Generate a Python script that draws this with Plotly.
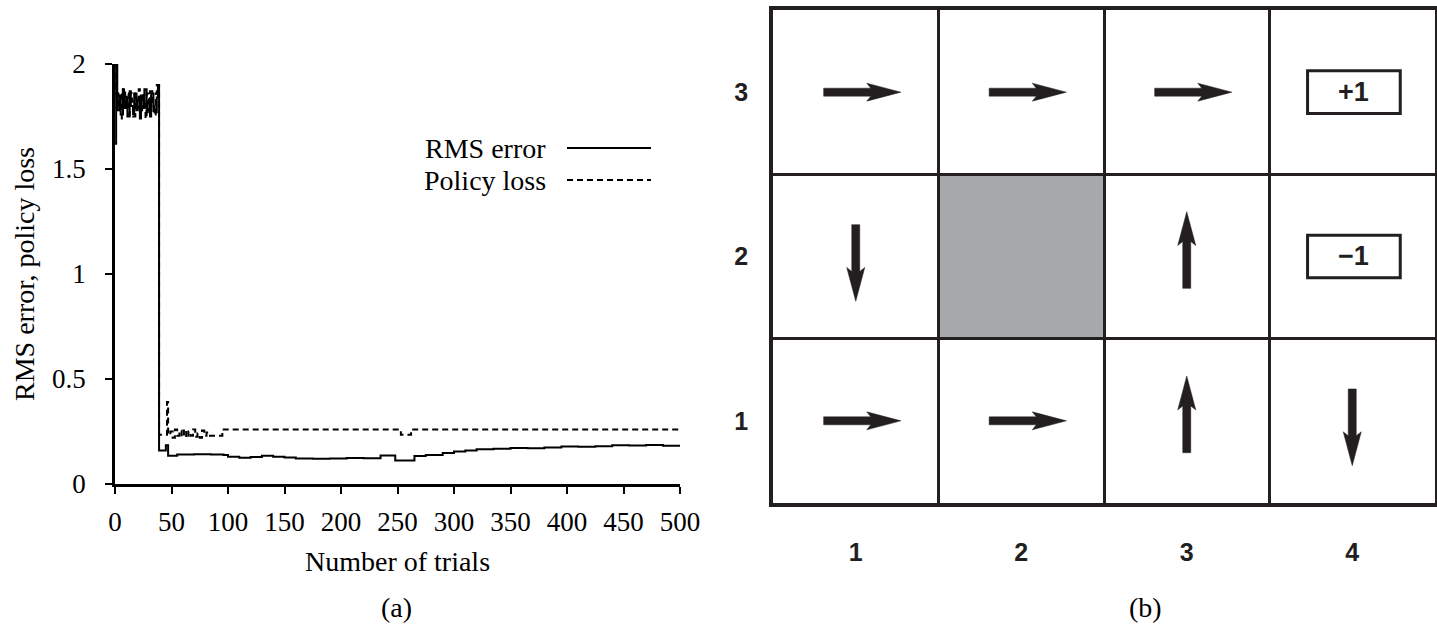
import plotly.graph_objects as go

W, H = 1437, 630

# ---------------- (a) learning curves ----------------
rms_trials = [0, 1, 2, 4, 5, 7, 8, 10, 11, 13, 14, 16, 17, 19, 20, 22, 23, 25, 26, 28,
              29, 31, 32, 34, 35, 37, 38,
              39, 45, 47, 55, 70, 85, 96, 100, 110, 120, 130, 140, 150, 160, 175, 190,
              205, 220, 235, 248, 265, 275, 290, 300, 310, 320, 335, 350, 365, 380,
              395, 410, 425, 440, 455, 470, 485, 500]
rms_values = [1.62, 2.0, 1.78, 1.85, 1.76, 1.88, 1.79, 1.84, 1.75, 1.87, 1.80, 1.76, 1.86,
              1.78, 1.83, 1.74, 1.85, 1.79, 1.88, 1.77, 1.82, 1.75, 1.86, 1.80, 1.77,
              1.84, 1.90,
              0.16, 0.185, 0.135, 0.14, 0.142, 0.14, 0.138, 0.13, 0.125, 0.128, 0.134,
              0.13, 0.126, 0.122, 0.12, 0.122, 0.124, 0.123, 0.136, 0.112, 0.133, 0.138,
              0.148, 0.155, 0.16, 0.166, 0.168, 0.172, 0.17, 0.174, 0.178, 0.177, 0.18,
              0.184, 0.183, 0.186, 0.182, 0.184]

pol_trials = [0, 1, 3, 4, 6, 7, 9, 10, 12, 13, 15, 16, 18, 19, 21, 22, 24, 25, 27, 28,
              30, 31, 33, 34, 36, 37,
              39, 46, 47, 49, 51, 53, 55, 57, 59, 61, 63, 65, 67, 69, 71, 73, 75, 77,
              79, 81, 83, 95, 253, 262, 500]
pol_values = [2.0, 1.86, 1.78, 1.86, 1.74, 1.88, 1.80, 1.86, 1.76, 1.86, 1.82, 1.75, 1.86,
              1.79, 1.88, 1.77, 1.86, 1.81, 1.74, 1.86, 1.78, 1.87, 1.80, 1.76, 1.86,
              1.90,
              0.235, 0.39, 0.235, 0.25, 0.22, 0.26, 0.23, 0.255, 0.225, 0.26, 0.22, 0.25,
              0.23, 0.26, 0.225, 0.24, 0.22, 0.255, 0.23, 0.245, 0.23, 0.26, 0.235,
              0.26, 0.26]

x_ticks = [0, 50, 100, 150, 200, 250, 300, 350, 400, 450, 500]
y_ticks = [0, 0.5, 1, 1.5, 2]
y_tick_text = ["0", "0.5", "1", "1.5", "2"]

# ---------------- (b) grid world policy ----------------
grid_cols = [1, 2, 3, 4]
grid_rows = [1, 2, 3]
arrow_cells = [(1, 3, "right"), (2, 3, "right"), (3, 3, "right"),
               (1, 2, "down"), (3, 2, "up"),
               (1, 1, "right"), (2, 1, "right"), (3, 1, "up"), (4, 1, "down")]
wall_cells = [(2, 2)]
terminal_cells = [(4, 3, "+1"), (4, 2, "\u22121")]

serif = "Liberation Serif"
sans = "Liberation Sans"
ink = "#231f20"
TXT = 28

def px(xp):
    return xp / W

def py(yp):
    return 1 - yp / H

fig = go.Figure()

fig.add_trace(go.Scatter(x=rms_trials, y=rms_values, mode="lines", line_shape="hv",
                         line=dict(color="black", width=2), showlegend=False,
                         xaxis="x", yaxis="y"))
fig.add_trace(go.Scatter(x=pol_trials, y=pol_values, mode="lines", line_shape="hv",
                         line=dict(color="black", width=2, dash="6px,4px"), showlegend=False,
                         xaxis="x", yaxis="y"))

# arrows as filled polygons (in cell units)
u = 1 / 165.0
dirs = {"right": (1, 0), "left": (-1, 0), "up": (0, 1), "down": (0, -1)}
profile = [(-32, -4), (15, -4), (11, -9), (45, 0), (11, 9), (15, 4), (-32, 4), (-32, -4)]
for (c, r, d) in arrow_cells:
    dx, dy = dirs[d]
    xs, ys = [], []
    for a, b in profile:
        xs.append(c + (a * dx - b * dy) * u)
        ys.append(r + (a * dy + b * dx) * u)
    fig.add_trace(go.Scatter(x=xs, y=ys, mode="lines", fill="toself",
                             fillcolor=ink, line=dict(color=ink, width=0.5),
                             showlegend=False, xaxis="x2", yaxis="y2", hoverinfo="skip"))

shapes = []
for (c, r) in wall_cells:
    shapes.append(dict(type="rect", xref="x2", yref="y2", x0=c - 0.5, x1=c + 0.5,
                       y0=r - 0.5, y1=r + 0.5, fillcolor="#a7a8ab", line=dict(width=0),
                       layer="below"))
annotations = []
for (c, r, t) in terminal_cells:
    shapes.append(dict(type="rect", xref="x2", yref="y2", x0=c - 0.27, x1=c + 0.29,
                       y0=r - 0.13, y1=r + 0.13, fillcolor="white",
                       line=dict(color=ink, width=3)))
    annotations.append(dict(x=c + 0.01, y=r, xref="x2", yref="y2", text="<b>%s</b>" % t,
                            showarrow=False, font=dict(family=sans, size=27, color=ink)))

# legend for (a)
legend_items = [("RMS error", "solid", 148), ("Policy loss", "dash", 180)]
for name, dash, yp in legend_items:
    annotations.append(dict(x=px(548), y=py(yp), xref="paper", yref="paper", text=name,
                            showarrow=False, xanchor="right", yanchor="middle",
                            font=dict(family=serif, size=TXT, color="black")))
    shapes.append(dict(type="line", xref="paper", yref="paper", x0=px(567), x1=px(651),
                       y0=py(yp), y1=py(yp),
                       line=dict(color="black", width=2,
                                 dash="solid" if dash == "solid" else "6px,4px")))

for label, xc in [("(a)", 397), ("(b)", 1145)]:
    annotations.append(dict(x=px(xc), y=py(607), xref="paper", yref="paper", text=label,
                            showarrow=False, xanchor="center", yanchor="middle",
                            font=dict(family=serif, size=TXT, color="black")))

fig.update_layout(
    width=W, height=H, margin=dict(l=0, r=0, t=0, b=0, autoexpand=False),
    paper_bgcolor="white", plot_bgcolor="white",
    shapes=shapes, annotations=annotations,
    xaxis=dict(domain=[px(115), px(680)], range=[0, 500], tickvals=x_ticks,
               showline=True, linecolor="black", linewidth=2.5, ticks="outside",
               ticklen=7, tickwidth=2, tickcolor="black", showgrid=False, zeroline=False,
               tickfont=dict(family=serif, size=27, color="black"), ticklabelstandoff=5,
               title=dict(text="Number of trials", font=dict(family=serif, size=TXT, color="black"),
                          standoff=16),
               anchor="y", automargin=False),
    yaxis=dict(domain=[py(484), py(64)], range=[0, 2], tickvals=y_ticks, ticktext=y_tick_text,
               showline=True, linecolor="black", linewidth=2.5, ticks="outside",
               ticklen=7, tickwidth=2, tickcolor="black", showgrid=False, zeroline=False,
               tickfont=dict(family=serif, size=27, color="black"), ticklabelstandoff=14,
               title=dict(text="RMS error, policy loss", font=dict(family=serif, size=TXT, color="black"),
                          standoff=10),
               anchor="x", automargin=False),
    xaxis2=dict(domain=[px(773), px(1435)], range=[0.5, 4.5], tickvals=grid_cols,
                ticktext=["<b>%d</b>" % c for c in grid_cols], ticks="", showgrid=False,
                zeroline=False, showline=True, mirror=True, linecolor=ink, linewidth=3.5,
                minor=dict(tickvals=[1.5, 2.5, 3.5], showgrid=True, gridcolor=ink,
                           gridwidth=3, ticks=""),
                tickfont=dict(family=sans, size=25, color=ink), ticklabelstandoff=24,
                anchor="y2", fixedrange=True, automargin=False),
    yaxis2=dict(domain=[py(503), py(10)], range=[0.5, 3.5], tickvals=grid_rows,
                ticktext=["<b>%d</b>" % r for r in grid_rows], ticks="", showgrid=False,
                zeroline=False, showline=True, mirror=True, linecolor=ink, linewidth=3.5,
                minor=dict(tickvals=[1.5, 2.5], showgrid=True, gridcolor=ink,
                           gridwidth=3, ticks=""),
                tickfont=dict(family=sans, size=25, color=ink), ticklabelstandoff=16,
                anchor="x2", fixedrange=True, automargin=False),
)

fig.write_html("out.html", config={"displayModeBar": False},
               post_script="document.body.style.margin='0px';")
